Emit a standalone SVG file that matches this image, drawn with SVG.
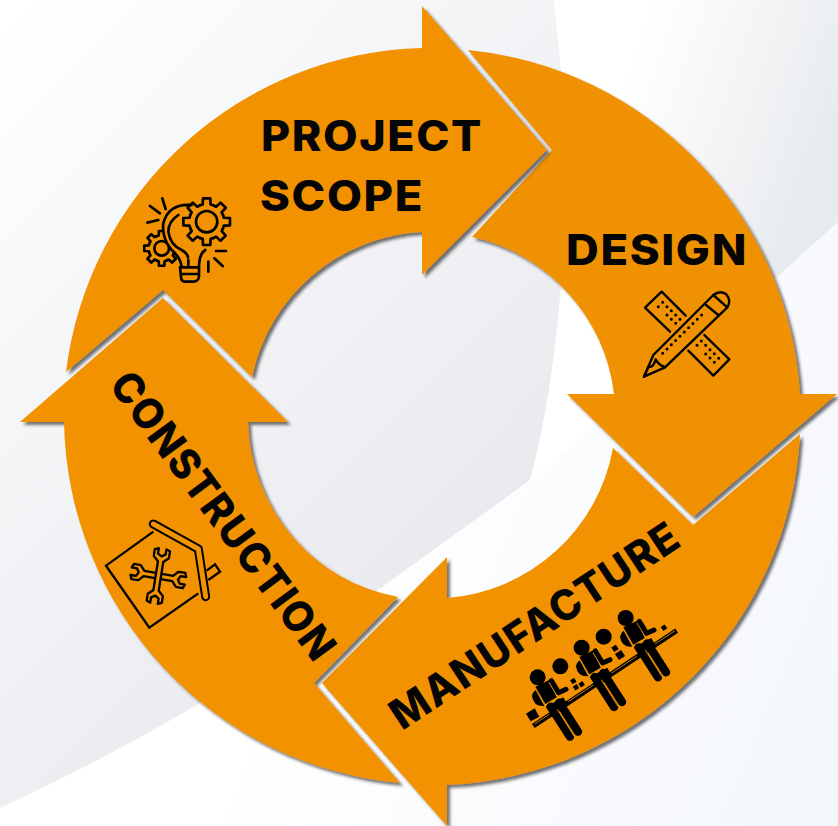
<svg xmlns="http://www.w3.org/2000/svg" xmlns:xlink="http://www.w3.org/1999/xlink" width="838" height="826" viewBox="0 0 838 826">
<style>
.lbl{font-family:"Inter","Liberation Sans",sans-serif;font-weight:800;font-size:42px;letter-spacing:1.5px;fill:#050505}
.arrow{fill:#f39200;filter:url(#sh)}
.ic{fill:none;stroke:#000;stroke-linecap:round;stroke-linejoin:round}
</style>
<defs>
<filter id="sh" x="-10%" y="-10%" width="120%" height="120%"><feDropShadow dx="3" dy="3" stdDeviation="1.8" flood-color="#222" flood-opacity=".62"/></filter>
<linearGradient id="g1" gradientUnits="userSpaceOnUse" x1="20" y1="10" x2="520" y2="500"><stop offset="0" stop-color="#fff"/><stop offset=".35" stop-color="#f6f7f9"/><stop offset="1" stop-color="#e8eaed"/></linearGradient>
<linearGradient id="g2" gradientUnits="userSpaceOnUse" x1="620" y1="90" x2="820" y2="160"><stop offset="0" stop-color="#fff"/><stop offset="1" stop-color="#e8ebee"/></linearGradient>
<linearGradient id="g3" gradientUnits="userSpaceOnUse" x1="300" y1="600" x2="838" y2="826"><stop offset="0" stop-color="#fff"/><stop offset="1" stop-color="#f3f6fb"/></linearGradient>
<path id="tooth" d="M-6.9-16.6L-4-17.5L-3.7-23.7L3.7-23.7L4-17.5L6.9-16.6"/>
<g id="gear"><circle r="18" fill="#f39200" stroke="none"/><use xlink:href="#tooth"/><use xlink:href="#tooth" transform="rotate(45)"/><use xlink:href="#tooth" transform="rotate(90)"/><use xlink:href="#tooth" transform="rotate(135)"/><use xlink:href="#tooth" transform="rotate(180)"/><use xlink:href="#tooth" transform="rotate(225)"/><use xlink:href="#tooth" transform="rotate(270)"/><use xlink:href="#tooth" transform="rotate(315)"/></g>
<path id="wrench" d="M-7-38L-20-50L-20-68L-10-72L-10-58L0-52L10-58L10-72L20-68L20-50L7-38L7 38L20 50L20 68L10 72L10 58L0 52L-10 58L-10 72L-20 68L-20 50L-7 38Z" fill="#f39200" stroke="#000" stroke-width="6" stroke-linejoin="round"/>
<g id="worker">
<circle cx="113" cy="262" r="24"/>
<path d="M96 318Q98 306 107 300L133 348Q100 350 96 318Z"/>
<path d="M106 290L148 270L170 322L136 342Z"/>
<path d="M154 272L176 308L198 298" fill="none" stroke="#f39200" stroke-width="20" stroke-linejoin="round"/>
<path d="M154 272L176 308L198 298" fill="none" stroke="#000" stroke-width="15" stroke-linecap="round" stroke-linejoin="round"/>
<path d="M137 350L190 322L200 340L150 368Z"/>
<path d="M152 350L210 440M178 338L234 425" fill="none" stroke="#000" stroke-width="25" stroke-linecap="round"/>
<path d="M172 358L222 438" fill="none" stroke="#f39200" stroke-width="3"/>
</g>
</defs>
<g id="background">
<rect width="838" height="826" fill="url(#g3)"/>
<path d="M0 0H554L561 70L561 287Q552 400 530 480L378 590L197 705Q100 762 0 808Z" fill="url(#g1)"/>
<path d="M554 0H838V222L779 275L530 480Q552 400 561 287L561 70Z" fill="#fff"/>
<path d="M554 0H838V222L779 275Q740 308 700 330L600 200L561 70Z" fill="url(#g2)"/>
</g>
<g id="connectors"></g>
<g id="node-manufacture">
<path class="arrow" d="M800 434A369 369 0 0 1 447 785L447 826L322 683L447 557L447 598A183 183 0 0 0 613 448L693 525Z"/>
<text class="lbl" transform="translate(402 731) rotate(-33.5)" textLength="338" lengthAdjust="spacingAndGlyphs">MANUFACTURE</text>
<g transform="translate(500 590) scale(.33333)">
<path d="M100 408L530 122" stroke="#000" stroke-width="15" fill="none"/>
<path d="M104 402L148 373M205 335L280 285M335 249L410 199M465 162L525 122" stroke="#f39200" stroke-width="2.5" fill="none"/>
<path d="M78 371L104 355L118 380L92 394Z"/>
<circle cx="181" cy="229" r="24"/><circle cx="311" cy="140" r="24"/>
<rect x="213" y="266" width="14" height="14" transform="rotate(-33 220 273)"/><rect x="238" y="276" width="14" height="14" transform="rotate(-33 245 283)"/><rect x="221" y="285" width="14" height="14" transform="rotate(-33 228 292)"/>
<rect x="337" y="167" width="16" height="16" transform="rotate(-33 345 175)"/><rect x="349" y="184" width="22" height="22" transform="rotate(-33 360 195)"/><rect x="485" y="106" width="14" height="14" transform="rotate(-33 492 113)"/>
<use xlink:href="#worker"/><use xlink:href="#worker" x="132" y="-89"/><use xlink:href="#worker" x="264" y="-178"/>
</g>
</g>
<g id="node-design">
<path class="arrow" style="fill:#ef9106" d="M468 50A369 369 0 0 1 800 394L837 394L693 517L567 394L614 394A183 183 0 0 0 472 237L552 150Z"/>
<text class="lbl" x="566" y="265" textLength="182" lengthAdjust="spacingAndGlyphs">DESIGN</text>
<g class="ic" transform="translate(620 270) scale(.33333)" stroke-width="7">
<path d="M197 137L125 65L75 113L150 185M205 242L280 317L328 268L253 195"/>
<path d="M72 320L100 255L280 75Q300 60 318 72Q335 92 322 112L135 292Z"/>
<path d="M258 105L295 135M280 75L322 112M85 290Q100 295 107 268Q115 285 132 290M72 320L85 290"/>
<path d="M128 250L257 123" stroke-width="9" stroke-dasharray="0 18.2"/>
<path d="M115 110h0M128 97h0M141 110h0M154 122h0M167 135h0M180 148h0M141 135h0M154 148h0M167 160h0M231 226h0M244 213h0M257 226h0M270 239h0M283 251h0M296 265h0M257 252h0M270 264h0M283 277h0" stroke-width="9"/>
</g>
</g>
<g id="node-construction">
<path class="arrow" d="M400 783A369 369 0 0 1 64 422L20 422L163 298L288 422L248 422A183 183 0 0 0 398 597L314 683Z"/>
<text class="lbl" transform="translate(108 385) rotate(53.5)" textLength="348" lengthAdjust="spacingAndGlyphs">CONSTRUCTION</text>
<g transform="translate(90 500) scale(.33333)">
<path d="M190 95L48 197L178 383L325 280M350 212L375 193L390 215L355 240" fill="none" stroke="#000" stroke-width="7" stroke-linejoin="miter"/>
<path d="M190 72L325 147L347 290" fill="none" stroke="#000" stroke-width="27" stroke-linecap="round" stroke-linejoin="round"/>
<path d="M190 72L325 147L347 290" fill="none" stroke="#f39200" stroke-width="15" stroke-linecap="round" stroke-linejoin="round"/>
<use xlink:href="#wrench" transform="translate(205 228) rotate(100) scale(1.15)"/>
<use xlink:href="#wrench" transform="translate(205 228) rotate(9) scale(1.15)"/>
</g>
</g>
<g id="node-project-scope">
<path class="arrow" d="M66 372A369 369 0 0 1 422 48L422 6L547 150L422 275L422 232A183 183 0 0 0 252 377L163 290Z"/>
<text class="lbl" x="261" y="151" textLength="222" lengthAdjust="spacingAndGlyphs">PROJECT</text>
<text class="lbl" x="260" y="211" textLength="164" lengthAdjust="spacingAndGlyphs">SCOPE</text>
<g class="ic" transform="translate(100 170) scale(.33333)" stroke-width="8">
<use xlink:href="#gear" transform="translate(185 235) scale(2.2)" stroke-width="3.6"/>
<circle cx="185" cy="235" r="22"/>
<path fill="#f39200" d="M275 105Q205 100 190 160Q185 205 215 240Q240 260 245 290L297 290Q298 262 316 240L300 170Z" stroke="none"/>
<path d="M275 105Q205 100 190 160Q185 205 215 240Q240 260 245 290M316 240Q298 250 297 290M235 135Q205 155 205 185Q210 225 245 240Q262 250 264 262M265 270V285M240 292H297V320Q295 335 280 335H258Q243 335 243 320ZM245 312H293"/>
<use xlink:href="#gear" transform="translate(320 155) scale(2.95)" stroke-width="2.7"/>
<circle cx="320" cy="155" r="32"/>
<path d="M187 85L197 117M150 108L180 130M142 158L175 150M348 243H378M343 265L368 288M325 275V305"/>
</g>
</g>
</svg>
